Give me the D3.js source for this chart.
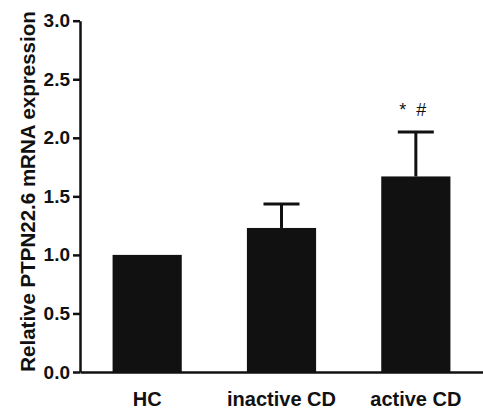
<!DOCTYPE html>
<html>
<head>
<meta charset="utf-8">
<script src="https://cdn.jsdelivr.net/npm/d3@7"></script>
<style>
  body { margin: 0; background: #fff; }
  svg text { font-family: "Liberation Sans", Arial, Helvetica, sans-serif; }
</style>
</head>
<body>
<div id="chart"></div>
<script>
// Data
let groups = ['HC', 'inactive CD', 'active CD'];
let means = [1.0, 1.23, 1.67];
let errors = [0, 0.205, 0.38];
let marks = ['', '', '*  #'];
let yTicks = [0, 0.5, 1.0, 1.5, 2.0, 2.5, 3.0];

// SVG setup
let svgWidth = 483;
let svgHeight = 410;

let svg = d3.select('#chart')
  .append('svg')
  .attr('width', svgWidth)
  .attr('height', svgHeight);

// Scales
let xScale = d3.scaleBand()
  .domain(groups)
  .range([80, 483])
  .paddingInner(0.485)
  .paddingOuter(0.2425);

let yScale = d3.scaleLinear()
  .domain([0, 3])
  .range([372, 20.7]);

// Bars
svg.selectAll('.bar')
  .data(groups)
  .enter()
  .append('rect')
  .attr('class', 'bar')
  .attr('x', d => xScale(d))
  .attr('y', (d, i) => yScale(means[i]))
  .attr('width', xScale.bandwidth())
  .attr('height', (d, i) => yScale(0) - yScale(means[i]))
  .attr('fill', '#111');

// Error bars (upper only)
let capW = 36;
groups.forEach(function(g, i) {
  if (errors[i] <= 0) return;
  let cx = xScale(g) + xScale.bandwidth() / 2;
  svg.append('line')
    .attr('x1', cx).attr('x2', cx)
    .attr('y1', yScale(means[i]))
    .attr('y2', yScale(means[i] + errors[i]))
    .attr('stroke', '#111')
    .attr('stroke-width', 3);
  svg.append('line')
    .attr('x1', cx - capW / 2).attr('x2', cx + capW / 2)
    .attr('y1', yScale(means[i] + errors[i]))
    .attr('y2', yScale(means[i] + errors[i]))
    .attr('stroke', '#111')
    .attr('stroke-width', 3);
});

// Significance marks
svg.selectAll('.mark')
  .data(groups)
  .enter()
  .append('text')
  .attr('class', 'mark')
  .attr('x', d => xScale(d) + xScale.bandwidth() / 2 - 3)
  .attr('y', (d, i) => yScale(means[i] + errors[i]) - 16)
  .attr('text-anchor', 'middle')
  .attr('font-size', '18px')
  .attr('fill', '#111')
  .style('white-space', 'pre')
  .text((d, i) => marks[i]);

// y-axis
let leftAxis = d3.axisLeft(yScale)
  .tickValues(yTicks)
  .tickFormat(d3.format('.1f'))
  .tickSize(7)
  .tickSizeOuter(0)
  .tickPadding(3);

let yAxis = svg.append('g')
  .attr('transform', 'translate(80, 0)')
  .call(leftAxis);

yAxis.attr('font-family', null);
yAxis.select('.domain').attr('stroke', '#111').attr('stroke-width', 2.5);
yAxis.selectAll('.tick line').attr('stroke', '#111').attr('stroke-width', 2.5);
yAxis.selectAll('.tick text')
  .attr('font-size', '19px')
  .attr('font-weight', 'bold')
  .attr('fill', '#111');

// x-axis
let bottomAxis = d3.axisBottom(xScale)
  .tickSize(0)
  .tickPadding(20);

let xAxis = svg.append('g')
  .attr('transform', `translate(0, ${yScale(0)})`)
  .call(bottomAxis);

xAxis.attr('font-family', null);
xAxis.select('.domain').attr('stroke', '#111').attr('stroke-width', 2.5);
xAxis.selectAll('.tick text')
  .attr('font-size', '20px')
  .attr('font-weight', 'bold')
  .attr('fill', '#111');

// y label
svg.append('text')
  .attr('transform', 'translate(35, 191.5) rotate(-90)')
  .attr('text-anchor', 'middle')
  .attr('font-size', '20.5px')
  .attr('font-weight', 'bold')
  .attr('fill', '#111')
  .text('Relative PTPN22.6 mRNA expression');
</script>
</body>
</html>
